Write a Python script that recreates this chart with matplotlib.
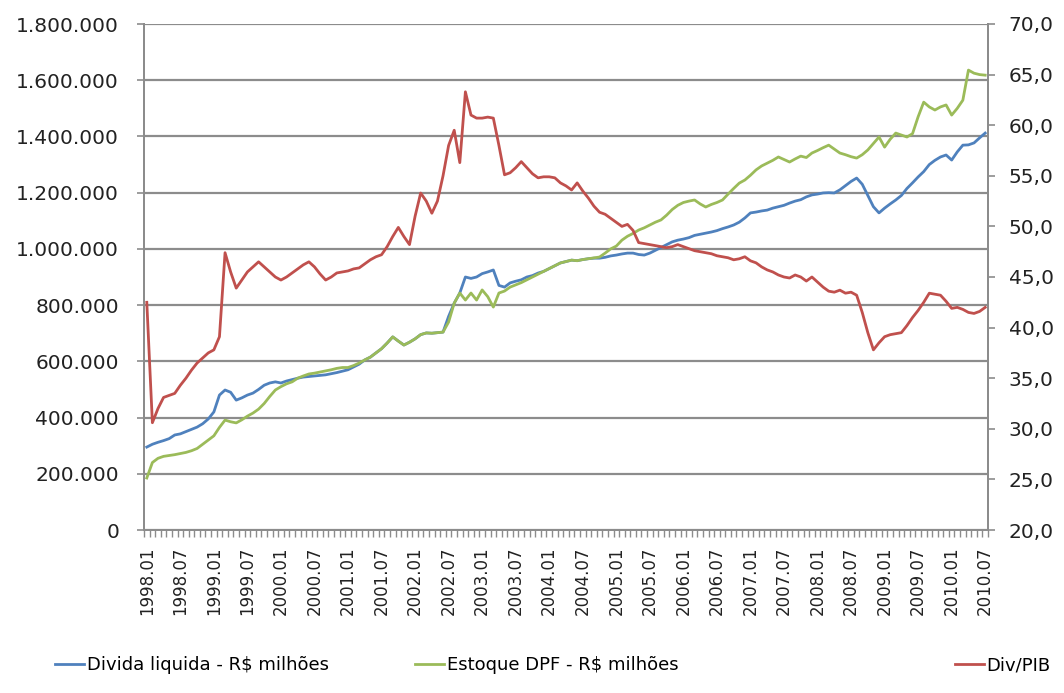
import matplotlib
matplotlib.use("Agg")
import matplotlib.pyplot as plt
from matplotlib.ticker import FuncFormatter, FixedLocator, MultipleLocator

# Monthly series, 1998.01 .. 2010.07 (151 months)
divida_liquida = [  # R$ milhões (thousands)
    295, 305, 312, 318, 325, 338, 342, 350, 358, 366, 378, 395,
    420, 480, 498, 490, 462, 470, 480, 487, 500, 515, 523, 527,
    523, 530, 535, 540, 544, 546, 548, 550, 552, 556, 560, 565,
    570, 580, 590, 605, 615, 630, 645, 665, 687, 672, 658, 668,
    680, 695, 701, 700, 702, 704, 760, 807, 843, 900, 895, 900,
    912, 918, 925, 870, 864, 879, 885, 890, 900, 905, 914, 920,
    930, 940, 950, 955, 960, 958, 962, 965, 967, 967, 970, 975,
    978, 982, 985, 985, 980, 978, 985, 995, 1005, 1015, 1025, 1031,
    1035, 1040, 1048, 1052, 1056, 1060, 1065, 1072, 1078, 1085, 1095, 1110,
    1128, 1131, 1135, 1138, 1145, 1150, 1155, 1163, 1170, 1175, 1185, 1192,
    1195, 1199, 1200, 1199, 1210, 1225, 1240, 1252, 1230, 1190, 1150, 1128,
    1145, 1160, 1174, 1190, 1215, 1235, 1256, 1275, 1300, 1315, 1327, 1334,
    1316, 1345, 1369, 1370, 1377, 1395, 1412,
]
estoque_dpf = [  # R$ milhões (thousands)
    185, 240, 255, 262, 265, 268, 272, 276, 282, 290, 305, 320,
    335, 365, 391, 385, 381, 392, 405, 416, 430, 450, 475, 498,
    510, 520, 527, 540, 548, 555, 558, 562, 566, 570, 575, 578,
    578, 585, 594, 605, 615, 630, 645, 665, 687, 672, 658, 668,
    680, 695, 701, 700, 702, 704, 740, 807, 843, 818, 843, 818,
    854, 830, 793, 843, 850, 864, 872, 880, 890, 900, 910, 920,
    930, 940, 950, 955, 960, 958, 962, 965, 968, 971, 985, 1000,
    1010, 1031, 1045, 1055, 1067, 1075, 1085, 1095, 1103, 1120, 1140, 1155,
    1165, 1170, 1174, 1160, 1149, 1158, 1165, 1174, 1195, 1215, 1234, 1245,
    1262, 1281, 1295, 1305, 1315, 1327, 1318, 1309, 1320, 1330, 1325, 1341,
    1350, 1360, 1369, 1355, 1341, 1335, 1328, 1323, 1335, 1352, 1375, 1398,
    1362, 1390, 1412, 1405, 1398, 1410, 1470, 1522, 1505, 1494, 1505, 1512,
    1476, 1500, 1529, 1636, 1625, 1620, 1618,
]
div_pib = [  # %
    42.5, 30.6, 32.0, 33.1, 33.3, 33.5, 34.3, 35.0, 35.8, 36.5, 37.0, 37.5,
    37.8, 39.1, 47.4, 45.5, 43.9, 44.7, 45.5, 46.0, 46.5, 46.0, 45.5, 45.0,
    44.7, 45.0, 45.4, 45.8, 46.2, 46.5, 46.0, 45.3, 44.7, 45.0, 45.4, 45.5,
    45.6, 45.8, 45.9, 46.3, 46.7, 47.0, 47.2, 48.0, 49.0, 49.9, 49.0, 48.2,
    51.0, 53.3, 52.5, 51.3, 52.5, 55.0, 58.0, 59.5, 56.3, 63.3, 61.0, 60.7,
    60.7, 60.8, 60.7, 58.0, 55.1, 55.3, 55.8, 56.4, 55.8, 55.2, 54.8, 54.9,
    54.9, 54.8, 54.3, 54.0, 53.6, 54.3, 53.5, 52.8, 52.0, 51.4, 51.2, 50.8,
    50.4, 50.0, 50.2, 49.6, 48.4, 48.3, 48.2, 48.1, 48.0, 47.9, 48.0, 48.2,
    48.0, 47.8, 47.6, 47.5, 47.4, 47.3, 47.1, 47.0, 46.9, 46.7, 46.8, 47.0,
    46.6, 46.4, 46.0, 45.7, 45.5, 45.2, 45.0, 44.9, 45.2, 45.0, 44.6, 45.0,
    44.5, 44.0, 43.6, 43.5, 43.7, 43.4, 43.5, 43.2, 41.5, 39.5, 37.8, 38.5,
    39.1, 39.3, 39.4, 39.5, 40.2, 41.0, 41.7, 42.5, 43.4, 43.3, 43.2, 42.6,
    41.9, 42.0, 41.8, 41.5, 41.4, 41.6, 42.0,
]
tick_labels = [
    "1998.01", "1998.07", "1999.01", "1999.07", "2000.01", "2000.07",
    "2001.01", "2001.07", "2002.01", "2002.07", "2003.01", "2003.07",
    "2004.01", "2004.07", "2005.01", "2005.07", "2006.01", "2006.07",
    "2007.01", "2007.07", "2008.01", "2008.07", "2009.01", "2009.07",
    "2010.01", "2010.07",
]
series_names = ["Divida liquida - R$ milhões", "Estoque DPF - R$ milhões", "Div/PIB"]
colors = ["#4F81BD", "#9BBB59", "#C0504D"]

n = len(div_pib)
x = list(range(n))
fs = 14.5

fig = plt.figure(figsize=(10.64, 6.93), dpi=100)
ax = fig.add_axes([144 / 1064, 1 - 530 / 693, (988 - 144) / 1064, (530 - 24) / 693])
ax2 = ax.twinx()

grid_c = "#8C8C8C"
l1, = ax.plot(x, [v * 1000 for v in divida_liquida], color=colors[0], lw=2.0, zorder=3)
l2, = ax.plot(x, [v * 1000 for v in estoque_dpf], color=colors[1], lw=2.0, zorder=3)
l3, = ax2.plot(x, div_pib, color=colors[2], lw=2.0, zorder=3)

ax.set_xlim(-0.5, n - 0.5)
ax.set_ylim(0, 1800000)
ax2.set_ylim(20, 70)
ax.yaxis.set_major_locator(MultipleLocator(200000))
ax2.yaxis.set_major_locator(MultipleLocator(5))
ax.yaxis.set_major_formatter(FuncFormatter(lambda v, p: f"{int(v):,}".replace(",", ".")))
ax2.yaxis.set_major_formatter(FuncFormatter(lambda v, p: f"{v:.1f}".replace(".", ",")))

ax.xaxis.set_major_locator(FixedLocator(list(range(0, n, 6))))
ax.set_xticklabels(tick_labels, rotation=90, fontsize=12)
ax.xaxis.set_minor_locator(FixedLocator([i - 0.5 for i in range(n + 1)]))
ax.tick_params(axis="x", which="major", length=0, pad=12)
ax.tick_params(axis="x", which="minor", length=5, color=grid_c, width=1)

ax.grid(axis="y", color=grid_c, lw=1.6, zorder=0)
ax.set_axisbelow(True)
ax.tick_params(axis="y", labelsize=fs, length=5, color=grid_c, width=1.2, pad=13)
ax2.tick_params(axis="y", labelsize=fs, length=5, color=grid_c, width=1.2, pad=10)

for a in (ax, ax2):
    a.spines["top"].set_visible(False)
    for s in ("left", "right", "bottom"):
        a.spines[s].set_color(grid_c)
        a.spines[s].set_linewidth(1.4)
for lab in ax.get_yticklabels() + ax2.get_yticklabels():
    lab.set_color("#222222")
for lab in ax.get_xticklabels():
    lab.set_color("#222222")

leg_x = [55, 415, 955]
for line, name, lx in zip([l1, l2, l3], series_names, leg_x):
    fig.legend([line], [name], loc="center left", bbox_to_anchor=(lx / 1064, 1 - 665 / 693),
               frameon=False, fontsize=13, handlelength=1.6, handletextpad=0.15,
               borderpad=0, borderaxespad=0)

fig.savefig("out.png", dpi=100)
